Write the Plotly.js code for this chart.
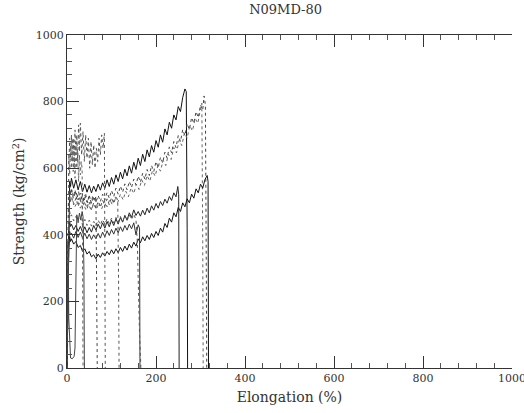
<!DOCTYPE html>
<html>
<head>
<meta charset="utf-8">
<script src="https://cdn.plot.ly/plotly-3.0.1.min.js"></script>
<style>html,body{margin:0;padding:0;background:#fff;}#chart{width:524px;height:413px;}</style>
</head>
<body>
<div id="chart"></div>
<script>
// Specimen curves: elongation (%) vs strength (kg/cm^2)
const xA = [0,2,4,6,8,10,15,20,25,30,35,40,45,50,55,60,65,70,75,80,85,90,95,100,105,110,115,120,125,130,135,140,145,150,155,160,165,170,175,180,185,190,195,200,205,210,215,220,225,230,235,240,245,250,255,260,265,268,270,271];
const yA = [0,250,480,560,545,570,540,565,535,560,530,552,528,548,526,546,530,552,534,556,540,565,545,572,552,580,560,588,568,597,577,607,585,618,596,630,608,642,620,655,634,668,648,683,663,700,678,718,700,738,720,760,745,785,770,812,838,830,420,0];

const xB1 = [0,2,4,6,8,10,15,20,25,30,35,40,45,50,55,60,65,70,75,80,85,90,95,100,105,110,115,120,125,130,135,140,145,150,155,160,165,170,175,180,185,190,195,200,205,210,215,220,225,230,235,240,245,250,255,260,265,270,275,280,285,290,295,300,305,308,311,313,314];
const yB1 = [0,300,470,535,520,535,512,530,505,525,500,520,498,516,495,515,498,518,500,522,505,527,510,533,515,540,522,546,528,553,535,560,542,567,550,576,558,585,567,596,578,608,590,620,602,633,616,648,630,664,646,680,662,698,680,716,698,734,716,752,735,770,752,790,775,817,790,300,0];

const xB2 = [0,2,4,6,8,12,18,24,30,36,42,48,54,60,66,72,78,84,90,96,102,108,114,120,126,132,138,144,150,156,162,168,174,180,186,192,198,204,210,216,222,228,234,240,246,252,258,264,270,276,282,288,294,300,303,305,306];
const yB2 = [0,280,450,515,500,505,485,500,480,497,476,493,474,492,476,496,478,500,484,506,490,514,497,522,505,531,514,541,524,552,536,565,548,578,561,592,576,607,591,624,608,642,626,662,646,684,668,706,690,728,712,750,735,778,795,380,0];

const xC = [0,2,4,6,8,10,15,20,25,30,35,40,45,50,55,60,65,70,75,80,85,90,95,100,105,110,115,120,125,130,135,140,145,150,155,160,165,170,175,180,185,190,195,200,205,210,215,220,225,230,235,240,245,249,251,252];
const yC = [0,300,420,440,425,432,415,428,410,425,408,424,406,422,408,428,414,432,418,436,420,440,424,444,428,448,432,452,438,458,444,466,452,475,458,470,456,474,460,480,466,487,474,494,480,500,488,507,495,515,503,526,514,545,520,0];

const xD = [0,2,4,6,8,10,15,20,25,30,35,40,45,50,55,60,65,70,75,80,85,90,95,100,105,110,115,120,125,130,135,140,145,150,155,160,165,170,175,180,185,190,195,200,205,210,215,220,225,230,235,240,245,250,255,260,265,270,275,280,285,290,295,300,305,310,315,317,318];
const yD = [0,250,360,395,380,388,372,380,362,368,350,358,342,350,334,340,328,342,332,346,336,350,340,355,343,358,346,362,350,366,354,372,360,378,366,388,376,394,382,398,386,404,392,410,398,420,408,434,422,450,438,466,454,482,470,496,484,508,496,522,510,538,526,552,540,566,578,560,0];

const xE = [0,2,4,6,8,10,15,20,25,30,35,40,45,50,55,60,65,70,75,80,85,90,95,100,105,110,115,120,125,130,135,140,145,150,155,160,163,164];
const yE = [0,280,380,410,400,405,390,410,392,408,390,405,388,402,386,400,388,404,390,408,394,412,398,416,402,420,406,424,410,428,414,432,418,436,400,430,420,0];

const xL = [0,2,4,6,8,10,15,20,25,30,35,40,45,50,55,60,65,70,75,80,85,90,95,100,105,110,115,120,125,130,135,140,145,150,155,158,160,161,163,165,166];
const yL = [0,300,430,470,455,460,442,455,436,450,430,446,428,444,426,440,428,444,430,446,432,448,434,450,436,452,438,455,440,458,443,460,446,462,445,380,250,160,100,40,0];

const xF = [0,2,4,6,8,10,12,14,16,18,20,22,24,26,28,30,33,36,39,42,45,48,51,54,57,60,63,66,69,72,75,78,81,84,85,86];
const yF = [0,380,600,690,630,700,620,690,610,715,640,700,620,730,650,735,640,710,620,700,630,690,600,680,610,670,600,660,620,690,640,700,660,705,400,0];

const xG = [0,2,4,6,8,10,12,14,16,18,20,22,24,26,28,30,32,34,35,36];
const yG = [0,450,640,580,670,600,690,590,660,570,680,600,650,560,640,580,620,600,300,0];

const xH = [0,2,4,6,8,10,14,18,22,26,30,34,38,42,46,50,54,58,62,65,67,68];
const yH = [0,350,500,545,520,540,510,535,505,530,500,525,498,522,496,520,494,518,500,515,250,0];

const xI = [0,2,4,6,8,10,15,20,25,30,35,40,45,50,55,60,65,70,75,80,85,90,95,100,105,110,114,116,117];
const yI = [0,320,470,520,500,515,490,510,485,505,480,500,478,498,476,496,480,500,482,504,486,508,490,512,494,514,505,250,0];

const xK = [0,1,2,3,4,6,8,12,16,18,19,20,22,25,28,31,34,36,38,39];
const yK = [0,200,380,300,150,50,30,28,35,60,200,400,460,440,465,445,470,455,300,0];

const xTicks = [0,200,400,600,800,1000];
const yTicks = [0,200,400,600,800,1000];

const series = [
  {x:xA,y:yA,color:'#111',dash:'solid'},
  {x:xB1,y:yB1,color:'#444',dash:'dot'},
  {x:xB2,y:yB2,color:'#666',dash:'dot'},
  {x:xC,y:yC,color:'#222',dash:'solid'},
  {x:xD,y:yD,color:'#111',dash:'solid'},
  {x:xE,y:yE,color:'#333',dash:'solid'},
  {x:xL,y:yL,color:'#555',dash:'dot'},
  {x:xF,y:yF,color:'#555',dash:'dot'},
  {x:xG,y:yG,color:'#666',dash:'dot'},
  {x:xH,y:yH,color:'#444',dash:'dot'},
  {x:xI,y:yI,color:'#555',dash:'dot'},
  {x:xK,y:yK,color:'#444',dash:'solid'}
];

const traces = series.map(s => ({
  type:'scatter', mode:'lines', x:s.x, y:s.y,
  line:{color:s.color, width:1, dash:s.dash},
  hoverinfo:'skip', showlegend:false
}));

const fnt = {family:'DejaVu Serif', size:11, color:'#333'};
const axisCommon = {
  range:[0,1000], ticks:'inside', ticklen:12, tickwidth:1, tickcolor:'#333',
  showline:true, linecolor:'#333', linewidth:1, showgrid:false, zeroline:false,
  tickfont:fnt, ticklabeloverflow:'allow',
  minor:{dtick:40, ticks:'inside', ticklen:5, tickcolor:'#555', showgrid:false}
};

const layout = {
  width:524, height:413,
  margin:{l:67, r:12, t:35, b:45},
  paper_bgcolor:'#fff', plot_bgcolor:'#fff',
  title:{text:'N09MD-80', x:0.545, xanchor:'center', y:0.976, yanchor:'middle',
         font:{family:'DejaVu Serif', size:13, color:'#333'}},
  xaxis:Object.assign({}, axisCommon, {
    tickmode:'array', tickvals:xTicks, ticktext:xTicks.map(String), mirror:'ticks',
    title:{text:'Elongation (%)', font:{family:'DejaVu Serif', size:14, color:'#333'}, standoff:7}
  }),
  yaxis:Object.assign({}, axisCommon, {
    tickmode:'array', tickvals:yTicks, ticktext:yTicks.map(String),
    title:{text:'Strength (kg/cm<sup>2</sup>)', font:{family:'DejaVu Serif', size:14, color:'#333'}, standoff:7}
  })
};

Plotly.newPlot('chart', traces, layout, {displayModeBar:false, staticPlot:true});
</script>
</body>
</html>
